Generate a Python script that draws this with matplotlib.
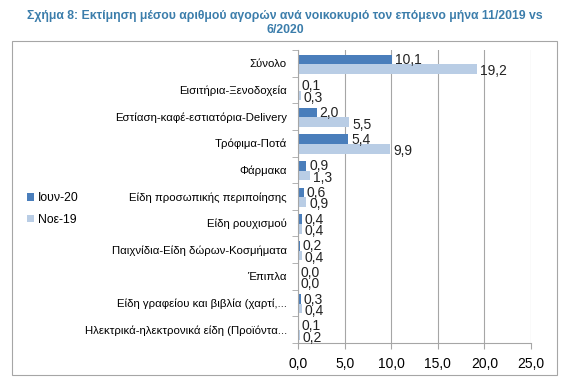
import numpy as np
import matplotlib.pyplot as plt
from matplotlib.patches import Rectangle
from matplotlib.ticker import FuncFormatter

plt.rcParams['font.family'] = ['Liberation Sans', 'DejaVu Sans']

categories = ['Σύνολο', 'Εισιτήρια-Ξενοδοχεία', 'Εστίαση-καφέ-εστιατόρια-Delivery',
              'Τρόφιμα-Ποτά', 'Φάρμακα', 'Είδη προσωπικής περιποίησης',
              'Είδη ρουχισμού', 'Παιχνίδια-Είδη δώρων-Κοσμήματα', 'Έπιπλα',
              'Είδη γραφείου και βιβλία (χαρτί,...', 'Ηλεκτρικά-ηλεκτρονικά είδη (Προϊόντα...']
jun20 = [10.1, 0.1, 2.0, 5.4, 0.9, 0.6, 0.4, 0.2, 0.0, 0.3, 0.1]
nov19 = [19.2, 0.3, 5.5, 9.9, 1.3, 0.9, 0.4, 0.4, 0.0, 0.4, 0.2]
series_names = ['Ιουν-20', 'Νοε-19']
colors = ['#4a7ebb', '#b9cde5']

fig = plt.figure(figsize=(5.7, 3.87), dpi=100)
fig.patches.append(Rectangle((12 / 570, 1 - 375 / 387), 545 / 570, 334 / 387,
                             transform=fig.transFigure, fill=False,
                             edgecolor='#a6a6a6', lw=0.8))
fig.text(0.5, 1 - 16 / 387, 'Σχήμα 8: Εκτίμηση μέσου αριθμού αγορών ανά νοικοκυριό τον επόμενο μήνα 11/2019 vs',
         ha='center', va='center', fontsize=8.8, fontweight='bold', color='#3b7dab')
fig.text(0.5, 1 - 30 / 387, '6/2020', ha='center', va='center', fontsize=8.8,
         fontweight='bold', color='#3b7dab')

ax = fig.add_axes([298 / 570, 1 - 343 / 387, 233 / 570, 293 / 387])
y = np.arange(len(categories))
h = 0.36
b1 = ax.barh(y - h / 2 + 0.03, jun20, height=h, color=colors[0], label=series_names[0])
b2 = ax.barh(y + h / 2 + 0.03, nov19, height=h, color=colors[1], label=series_names[1])

fmt = lambda v: f'{v:.1f}'.replace('.', ',')
for vals, off in [(jun20, -h / 2 + 0.05), (nov19, h / 2 + 0.12)]:
    for i, v in enumerate(vals):
        ax.text(v + 0.3, i + off, fmt(v), va='center', ha='left', fontsize=10, color='#222222')

ax.set_ylim(len(categories) - 0.5, -0.5)
ax.set_xlim(0, 25)
ax.set_xticks([0, 5, 10, 15, 20, 25])
ax.xaxis.set_major_formatter(FuncFormatter(lambda v, p: fmt(v)))
ax.set_yticks(y)
ax.set_yticklabels(categories)
ax.set_yticks(np.arange(len(categories) + 1) - 0.5, minor=True)
ax.tick_params(axis='y', which='major', length=0, pad=8, labelsize=8.2)
ax.tick_params(axis='y', which='minor', length=4, color='#a6a6a6', direction='out')
ax.tick_params(axis='x', length=4, color='#a6a6a6', labelsize=10, pad=6)
ax.grid(axis='x', color='#a6a6a6', lw=0.8)
ax.set_axisbelow(True)
for s in ['top', 'right']:
    ax.spines[s].set_visible(False)
for s in ['left', 'bottom']:
    ax.spines[s].set_color('#a6a6a6')

fig.legend(handles=[b1, b2], loc='upper left', bbox_to_anchor=(16 / 570, 1 - 181 / 387),
           frameon=False, fontsize=8.8, handlelength=0.6, handleheight=0.6,
           handletextpad=0.3, labelspacing=0.8)

fig.savefig('out.png', dpi=100)
